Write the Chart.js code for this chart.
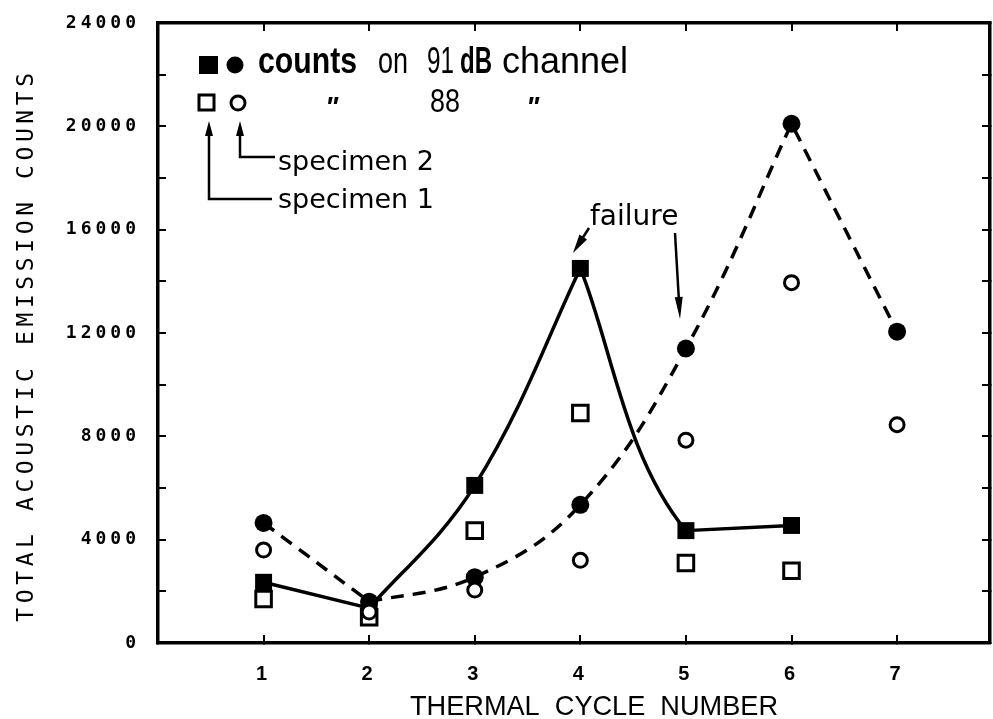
<!DOCTYPE html>
<html>
<head>
<meta charset="utf-8">
<script src="https://cdn.jsdelivr.net/npm/chart.js@4"></script>
<style>
  html, body { margin: 0; padding: 0; background: #fff; }
  canvas { display: block; }
</style>
</head>
<body>
<canvas id="grafico" width="993" height="719"></canvas>
<script>
// ciclos termicos (eixo x)
const ciclos = [1, 2, 3, 4, 5, 6, 7];
const xMax = 7.88;

// contagens de emissao acustica
const esp1Canal91 = [2350, 1350, 6100, 14500, 4350, 4550];        // quadrado cheio
const esp1Canal88 = [1700, 1000, 4350, 8900, 3100, 2800];         // quadrado vazio
const esp2Canal91 = [4650, 1600, 2550, 5350, 11400, 20100, 12050]; // circulo cheio
const esp2Canal88 = [3600, 1200, 2050, 3200, 7850, 13950, 8450];   // circulo vazio

const yMax = 24000;
const yRotulos = [0, 4000, 8000, 12000, 16000, 20000, 24000];

function pontos(valores) {
    return valores.map((v, i) => ({ x: ciclos[i], y: v }));
}

// pontos onde a curva faz canto (entrada / saida em linha reta)
const solidaCantoAntes = [1, 3];
const solidaCantoDepois = [1, 3, 4];
const tracejadaCantoAntes = [1, 5];
const tracejadaCantoDepois = [1, 5];

const pluginCantos = {
    id: 'cantos',
    beforeDatasetDraw(chart, args) {
        const ds = chart.data.datasets[args.index];
        if (!ds.cantoAntes) return;
        args.meta.dataset.updateControlPoints(chart.chartArea, 'x');
        const pts = args.meta.data;
        ds.cantoAntes.forEach(i => {
            const p = pts[i], ant = pts[i - 1] || p;
            p.cp1x = p.x + 0.3 * (ant.x - p.x);
            p.cp1y = p.y + 0.3 * (ant.y - p.y);
        });
        ds.cantoDepois.forEach(i => {
            const p = pts[i], prox = pts[i + 1] || p;
            p.cp2x = p.x + 0.3 * (prox.x - p.x);
            p.cp2y = p.y + 0.3 * (prox.y - p.y);
        });
    }
};

function seta(ctx, x1, y1, x2, y2, comp, meia) {
    const ang = Math.atan2(y2 - y1, x2 - x1);
    ctx.beginPath();
    ctx.moveTo(x1, y1);
    ctx.lineTo(x2 - comp * 0.5 * Math.cos(ang), y2 - comp * 0.5 * Math.sin(ang));
    ctx.stroke();
    const bx = x2 - comp * Math.cos(ang), by = y2 - comp * Math.sin(ang);
    ctx.beginPath();
    ctx.moveTo(x2, y2);
    ctx.lineTo(bx + meia * Math.sin(ang), by - meia * Math.cos(ang));
    ctx.lineTo(bx - meia * Math.sin(ang), by + meia * Math.cos(ang));
    ctx.closePath();
    ctx.fill();
}

function texto(ctx, str, x, y, fonte, largura) {
    ctx.font = fonte;
    if (largura) ctx.fillText(str, x, y, largura);
    else ctx.fillText(str, x, y);
}

const pluginTextos = {
    id: 'textos',
    beforeDraw(chart) {
        chart.ctx.letterSpacing = '4px';
    },
    afterDraw(chart) {
        const ctx = chart.ctx;
        ctx.save();
        ctx.fillStyle = '#000';
        ctx.strokeStyle = '#000';
        ctx.textBaseline = 'alphabetic';

        // titulo do eixo y
        ctx.save();
        ctx.letterSpacing = '4.6px';
        ctx.translate(33, 347);
        ctx.rotate(-Math.PI / 2);
        ctx.textAlign = 'center';
        texto(ctx, 'TOTAL ACOUSTIC EMISSION COUNTS', 2, 0, '23px "DejaVu Sans Mono"');
        ctx.restore();

        ctx.letterSpacing = '0px';
        ctx.textAlign = 'left';

        // legenda
        ctx.fillRect(199, 56, 19, 18);
        ctx.beginPath(); ctx.arc(235, 65, 8.5, 0, Math.PI * 2); ctx.fill();
        ctx.lineWidth = 3;
        ctx.strokeRect(199, 95, 15, 15);
        ctx.beginPath(); ctx.arc(238, 103, 7, 0, Math.PI * 2); ctx.stroke();

        texto(ctx, 'counts', 258, 73, 'bold 36px "Liberation Sans"', 99);
        texto(ctx, 'on', 378, 73, '36px "Liberation Sans"', 30);
        texto(ctx, '91', 427, 73, '36px "Liberation Sans"', 27);
        texto(ctx, 'dB', 460, 73, 'bold 36px "Liberation Sans"', 32);
        texto(ctx, 'channel', 502, 73, '36px "Liberation Sans"', 131);
        texto(ctx, '"', 325, 116, 'bold italic 28px "Liberation Sans"');
        texto(ctx, '88', 430, 112, '34px "Liberation Sans"', 30);
        texto(ctx, '"', 526, 116, 'bold italic 28px "Liberation Sans"');

        // setas dos especimes
        ctx.lineWidth = 2.5;
        seta(ctx, 240, 150, 240, 121, 15, 4);
        ctx.beginPath(); ctx.moveTo(240, 150); ctx.lineTo(240, 157); ctx.lineTo(275, 157); ctx.stroke();
        seta(ctx, 209, 190, 209, 121, 15, 4);
        ctx.beginPath(); ctx.moveTo(209, 190); ctx.lineTo(209, 199); ctx.lineTo(272, 199); ctx.stroke();
        texto(ctx, 'specimen 2', 278, 170, '27px "DejaVu Sans"', 157);
        texto(ctx, 'specimen 1', 278, 208, '27px "DejaVu Sans"', 157);

        // falha
        texto(ctx, 'failure', 590, 225, '28px "DejaVu Sans"', 89);
        seta(ctx, 589, 228, 573, 253, 19, 4.5);
        seta(ctx, 675, 233, 680, 319, 22, 4);

        // titulo do eixo x
        texto(ctx, 'THERMAL  CYCLE  NUMBER', 410, 715, '28px "Liberation Sans"', 368);
        ctx.restore();
    }
};

const bordaEixo = { display: true, color: '#000', width: 3.5 };
const tracosInternos = { drawOnChartArea: false, drawTicks: true, tickLength: -8, color: '#000', lineWidth: 2 };

function semPadding(s) {
    s.paddingTop = 0;
    s.paddingBottom = 0;
    s.paddingLeft = 0;
    s.paddingRight = 0;
}

const ctx = document.getElementById('grafico').getContext('2d');

new Chart(ctx, {
    type: 'line',
    data: {
        datasets: [
            {
                label: 'specimen 2, 88 dB',
                data: pontos(esp2Canal88),
                showLine: false,
                pointStyle: 'circle',
                pointRadius: 7,
                pointBorderWidth: 3,
                pointBorderColor: '#000',
                pointBackgroundColor: '#fff'
            },
            {
                label: 'specimen 1, 88 dB',
                data: pontos(esp1Canal88),
                showLine: false,
                pointStyle: 'rect',
                pointRadius: 11,
                pointBorderWidth: 3,
                pointBorderColor: '#000',
                pointBackgroundColor: '#fff'
            },
            {
                label: 'specimen 1, 91 dB',
                data: pontos(esp1Canal91),
                borderColor: '#000',
                borderWidth: 3.5,
                tension: 0.4,
                cantoAntes: solidaCantoAntes,
                cantoDepois: solidaCantoDepois,
                pointStyle: 'rect',
                pointRadius: 12,
                pointBorderWidth: 0,
                pointBackgroundColor: '#000'
            },
            {
                label: 'specimen 2, 91 dB',
                data: pontos(esp2Canal91),
                borderColor: '#000',
                borderWidth: 3.5,
                borderDash: [13, 9],
                tension: 0.4,
                cantoAntes: tracejadaCantoAntes,
                cantoDepois: tracejadaCantoDepois,
                pointStyle: 'circle',
                pointRadius: 9,
                pointBorderWidth: 0,
                pointBackgroundColor: '#000'
            }
        ]
    },
    options: {
        responsive: false,
        animation: false,
        events: [],
        layout: { padding: 0, autoPadding: false },
        plugins: {
            legend: { display: false },
            tooltip: { enabled: false }
        },
        scales: {
            x: {
                type: 'linear',
                position: 'bottom',
                min: 0,
                max: xMax,
                border: bordaEixo,
                grid: tracosInternos,
                ticks: {
                    stepSize: 1,
                    includeBounds: false,
                    padding: 27,
                    color: '#000',
                    font: { family: 'Liberation Sans', size: 20, weight: 'bold' },
                    callback: v => ciclos.includes(v) ? String(v) : ''
                },
                afterFit: s => { s.height = 76; semPadding(s); }
            },
            xTopo: {
                type: 'linear',
                position: 'top',
                min: 0,
                max: xMax,
                border: bordaEixo,
                grid: tracosInternos,
                ticks: { display: false, stepSize: 1, includeBounds: false },
                afterFit: s => { s.height = 23; semPadding(s); }
            },
            y: {
                type: 'linear',
                position: 'left',
                min: 0,
                max: yMax,
                border: bordaEixo,
                grid: tracosInternos,
                ticks: {
                    stepSize: 2000,
                    padding: 26,
                    color: '#000',
                    font: { family: 'DejaVu Sans Mono', size: 18, weight: 'bold' },
                    callback: v => yRotulos.includes(v) ? String(v) : ''
                },
                afterFit: s => { s.width = 158; semPadding(s); }
            },
            yDireita: {
                type: 'linear',
                position: 'right',
                min: 0,
                max: yMax,
                border: bordaEixo,
                grid: tracosInternos,
                ticks: { display: false, stepSize: 2000 },
                afterFit: s => { s.width = 3; semPadding(s); }
            }
        }
    },
    plugins: [pluginCantos, pluginTextos]
});
</script>
</body>
</html>
